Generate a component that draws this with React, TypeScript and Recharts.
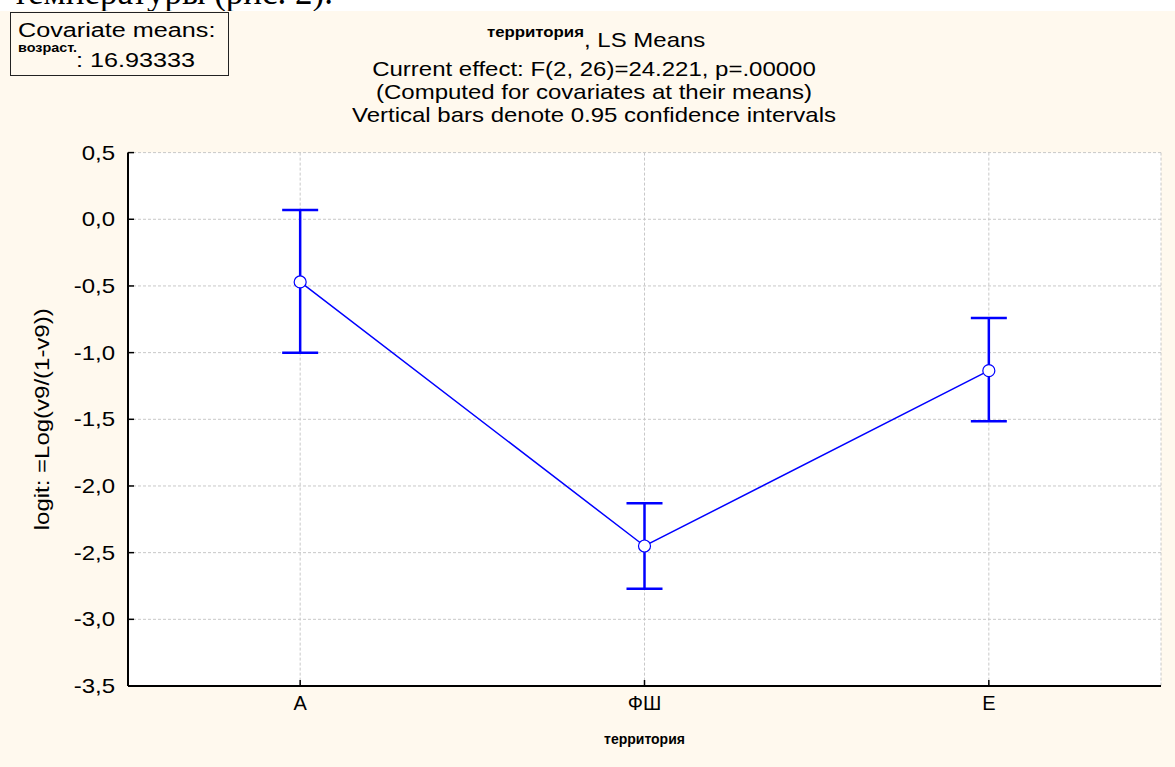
import { ComposedChart, Line, XAxis, YAxis, CartesianGrid, ErrorBar, Label } from 'recharts';

const categories = ['А', 'ФШ', 'Е'];
const means = [-0.47, -2.45, -1.135];
const lowerCI = [-1.0, -2.77, -1.515];
const upperCI = [0.07, -2.13, -0.74];
const yTicks = [0.5, 0, -0.5, -1, -1.5, -2, -2.5, -3, -3.5];

const FONT = '"Liberation Sans", Arial, sans-serif';
const BLUE = '#0000FF';
const CREAM = '#FFF9EE';
// the original's sans text is a bit wider than Arial
const WIDE = 1.2;

const chartData = categories.map((cat, i) => ({
  cat,
  mean: means[i],
  err: [means[i] - lowerCI[i], upperCI[i] - means[i]],
}));

const fmt = (v: number) => v.toFixed(1).replace('.', ',');

const WideText = ({ x, y, size, anchor = 'start', bold = false, rotate = 0, children }: any) => (
  <text
    transform={`translate(${x},${y}) rotate(${rotate}) scale(${WIDE},1)`}
    textAnchor={anchor}
    fontSize={size}
    fontWeight={bold ? 'bold' : 'normal'}
    fontFamily={FONT}
    fill="#000"
  >
    {children}
  </text>
);

// ticks point inward, like the original
const LeftTick = (props: any) => {
  const { x, y, payload } = props;
  return (
    <g>
      <line x1={x} y1={y} x2={x + 6} y2={y} stroke="#000" strokeWidth={1.5} />
      <WideText x={x - 13} y={y + 7} size={20} anchor="end">
        {fmt(payload.value)}
      </WideText>
    </g>
  );
};

const RightTick = (props: any) => {
  const { x, y } = props;
  return <line x1={x - 6} y1={y} x2={x} y2={y} stroke="#000" strokeWidth={1.5} />;
};

const BottomTick = (props: any) => {
  const { x, y, payload } = props;
  return (
    <g>
      <line x1={x} y1={y} x2={x} y2={y - 6} stroke="#000" strokeWidth={1.5} />
      <text x={x} y={y} dy={24} textAnchor="middle" fontSize={20} fontFamily={FONT} fill="#000">
        {payload.value}
      </text>
    </g>
  );
};

const YLabel = (props: any) => {
  const vb = props.viewBox;
  return (
    <WideText x={42} y={vb.y + vb.height / 2} size={20} anchor="middle" rotate={-90}>
      <tspan dy={7}>logit: =Log(v9/(1-v9))</tspan>
    </WideText>
  );
};

export default function App() {
  return (
    <div
      style={{
        position: 'absolute',
        left: 0,
        top: 0,
        width: 1175,
        height: 767,
        background: '#fff',
        overflow: 'hidden',
        fontFamily: FONT,
      }}
    >
      <svg width={1175} height={20} style={{ position: 'absolute', left: 0, top: 0 }}>
        <text x={333} y={4} textAnchor="end" fontSize={35} fontFamily='"Liberation Serif", "Times New Roman", serif' fill="#000">
          температуры (рис. 2).
        </text>
      </svg>
      <div style={{ position: 'absolute', left: 0, top: 11, width: 1175, height: 756, background: CREAM }}>
        <ComposedChart width={1175} height={756} data={chartData} margin={{ top: 141.6, right: 14, bottom: 11, left: 8 }}>
          <CartesianGrid fill="#fff" stroke="#c8c8c8" strokeDasharray="3 2" strokeWidth={1} />
          <XAxis
            dataKey="cat"
            type="category"
            scale="band"
            height={70}
            tickSize={0}
            tickMargin={0}
            tick={<BottomTick />}
            axisLine={{ stroke: '#000', strokeWidth: 2 }}
            tickLine={false}
          >
            <Label
              value="территория"
              position="insideBottom"
              offset={12}
              style={{ fontSize: 14, fontWeight: 'bold', fill: '#000', fontFamily: FONT }}
            />
          </XAxis>
          <XAxis
            xAxisId="top"
            dataKey="cat"
            orientation="top"
            scale="band"
            height={0}
            tick={false}
            tickLine={false}
            axisLine={{ stroke: '#000', strokeWidth: 2 }}
          />
          <YAxis
            type="number"
            domain={[-3.5, 0.5]}
            ticks={yTicks}
            interval={0}
            width={120}
            tickSize={0}
            tickMargin={0}
            tick={<LeftTick />}
            tickLine={false}
            axisLine={{ stroke: '#000', strokeWidth: 2 }}
          >
            <Label content={<YLabel />} />
          </YAxis>
          <YAxis
            yAxisId="r"
            orientation="right"
            type="number"
            domain={[-3.5, 0.5]}
            ticks={yTicks}
            interval={0}
            width={0}
            tickSize={0}
            tickMargin={0}
            tick={<RightTick />}
            tickLine={false}
            axisLine={{ stroke: '#000', strokeWidth: 2 }}
          />
          <Line
            dataKey="mean"
            stroke={BLUE}
            strokeWidth={1.5}
            dot={{ r: 6, fill: '#fff', stroke: BLUE, strokeWidth: 1.2 }}
            activeDot={false}
            isAnimationActive={false}
          >
            <ErrorBar dataKey="err" direction="y" width={18} stroke={BLUE} strokeWidth={2.5} isAnimationActive={false} />
          </Line>
        </ComposedChart>
      </div>
      <svg width={1175} height={140} style={{ position: 'absolute', left: 0, top: 0, pointerEvents: 'none' }}>
        <rect x={10.5} y={12.5} width={218} height={63} fill={CREAM} stroke="#222" strokeWidth={1} />
        <WideText x={18} y={37} size={21}>Covariate means:</WideText>
        <WideText x={18} y={52} size={12} bold>возраст.</WideText>
        <WideText x={76} y={67} size={21}>: 16.93333</WideText>
        <WideText x={584} y={37} size={14} bold anchor="end">территория</WideText>
        <WideText x={584} y={47} size={20}>, LS Means</WideText>
        <WideText x={594} y={76} size={20} anchor="middle">Current effect: F(2, 26)=24.221, p=.00000</WideText>
        <WideText x={594} y={99} size={20} anchor="middle">(Computed for covariates at their means)</WideText>
        <WideText x={594} y={122} size={20} anchor="middle">Vertical bars denote 0.95 confidence intervals</WideText>
      </svg>
    </div>
  );
}
